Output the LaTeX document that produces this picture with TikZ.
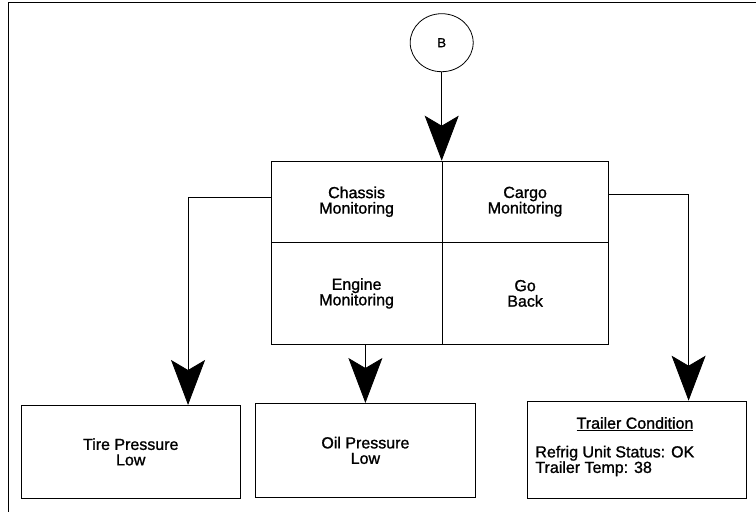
\documentclass[tikz,border=0pt]{standalone}
\usepackage{fontspec}
\setmainfont{Liberation Sans}
\newfontfamily\heavyfont{Liberation Sans}[FakeBold=1.2]
\usetikzlibrary{arrows.meta,shapes.geometric}

\begin{document}
\begin{tikzpicture}[
    x=1pt, y=-1pt,
    black,
    line width=0.8pt,
    txt/.style={font=\heavyfont\fontsize{16}{15.5}\selectfont, align=center},
    cell/.style={draw, txt, anchor=north west, inner sep=0pt},
    flow/.style={-{Stealth[length=45pt, width=34pt, inset=10pt]}}]

\useasboundingbox (0,0) rectangle (756,512);

% Frame
\draw (8,512) -- (8,2) -- (756,2);

% Off-page connector
\node[draw, ellipse,
    minimum width=63pt,
    minimum height=58pt,
    inner sep=0pt,
    font=\heavyfont\fontsize{13}{14}\selectfont] (b) at (441.7,42.7) {B};

% Menu cells
\node[cell, minimum width=171pt, minimum height=81.3pt] (chassis) at (270.7,160.7) {Chassis\\Monitoring};
\node[cell, minimum width=166pt, minimum height=81.3pt] (cargo) at (441.7,160.7) {Cargo\\Monitoring};
\node[cell, minimum width=171pt, minimum height=102pt] (engine) at (270.7,242) {Engine\\Monitoring};
\node[cell, minimum width=166pt, minimum height=102pt] (goback) at (441.7,242) {Go\\Back};

% Result screens
\node[cell, minimum width=219.3pt, minimum height=93pt] (tire) at (20.7,405) {Tire Pressure\\Low};
\node[cell, minimum width=220pt, minimum height=94pt] (oil) at (255,403) {Oil Pressure\\Low};
\node[draw,
    anchor=north west,
    minimum width=219pt,
    minimum height=97.3pt] (trailer) at (526.7,400.7) {};
\node[txt] (title) at (635,424) {\underline{Trailer Condition}};
\node[txt, align=left, anchor=west, inner sep=0pt] (status) at (535,461) {Refrig Unit Status: OK\\Trailer Temp: 38};

% Arrows
\draw[flow] (b) -- (b |- chassis.north);
\draw[flow] ([yshift=4.6pt]chassis.west) -| ([xshift=57.3pt]tire.north);
\draw[flow] ([yshift=7.3pt]cargo.east) -| ([xshift=52pt]trailer.north);
\draw[flow] (oil.north |- engine.south) -- (oil.north);

\end{tikzpicture}
\end{document}
